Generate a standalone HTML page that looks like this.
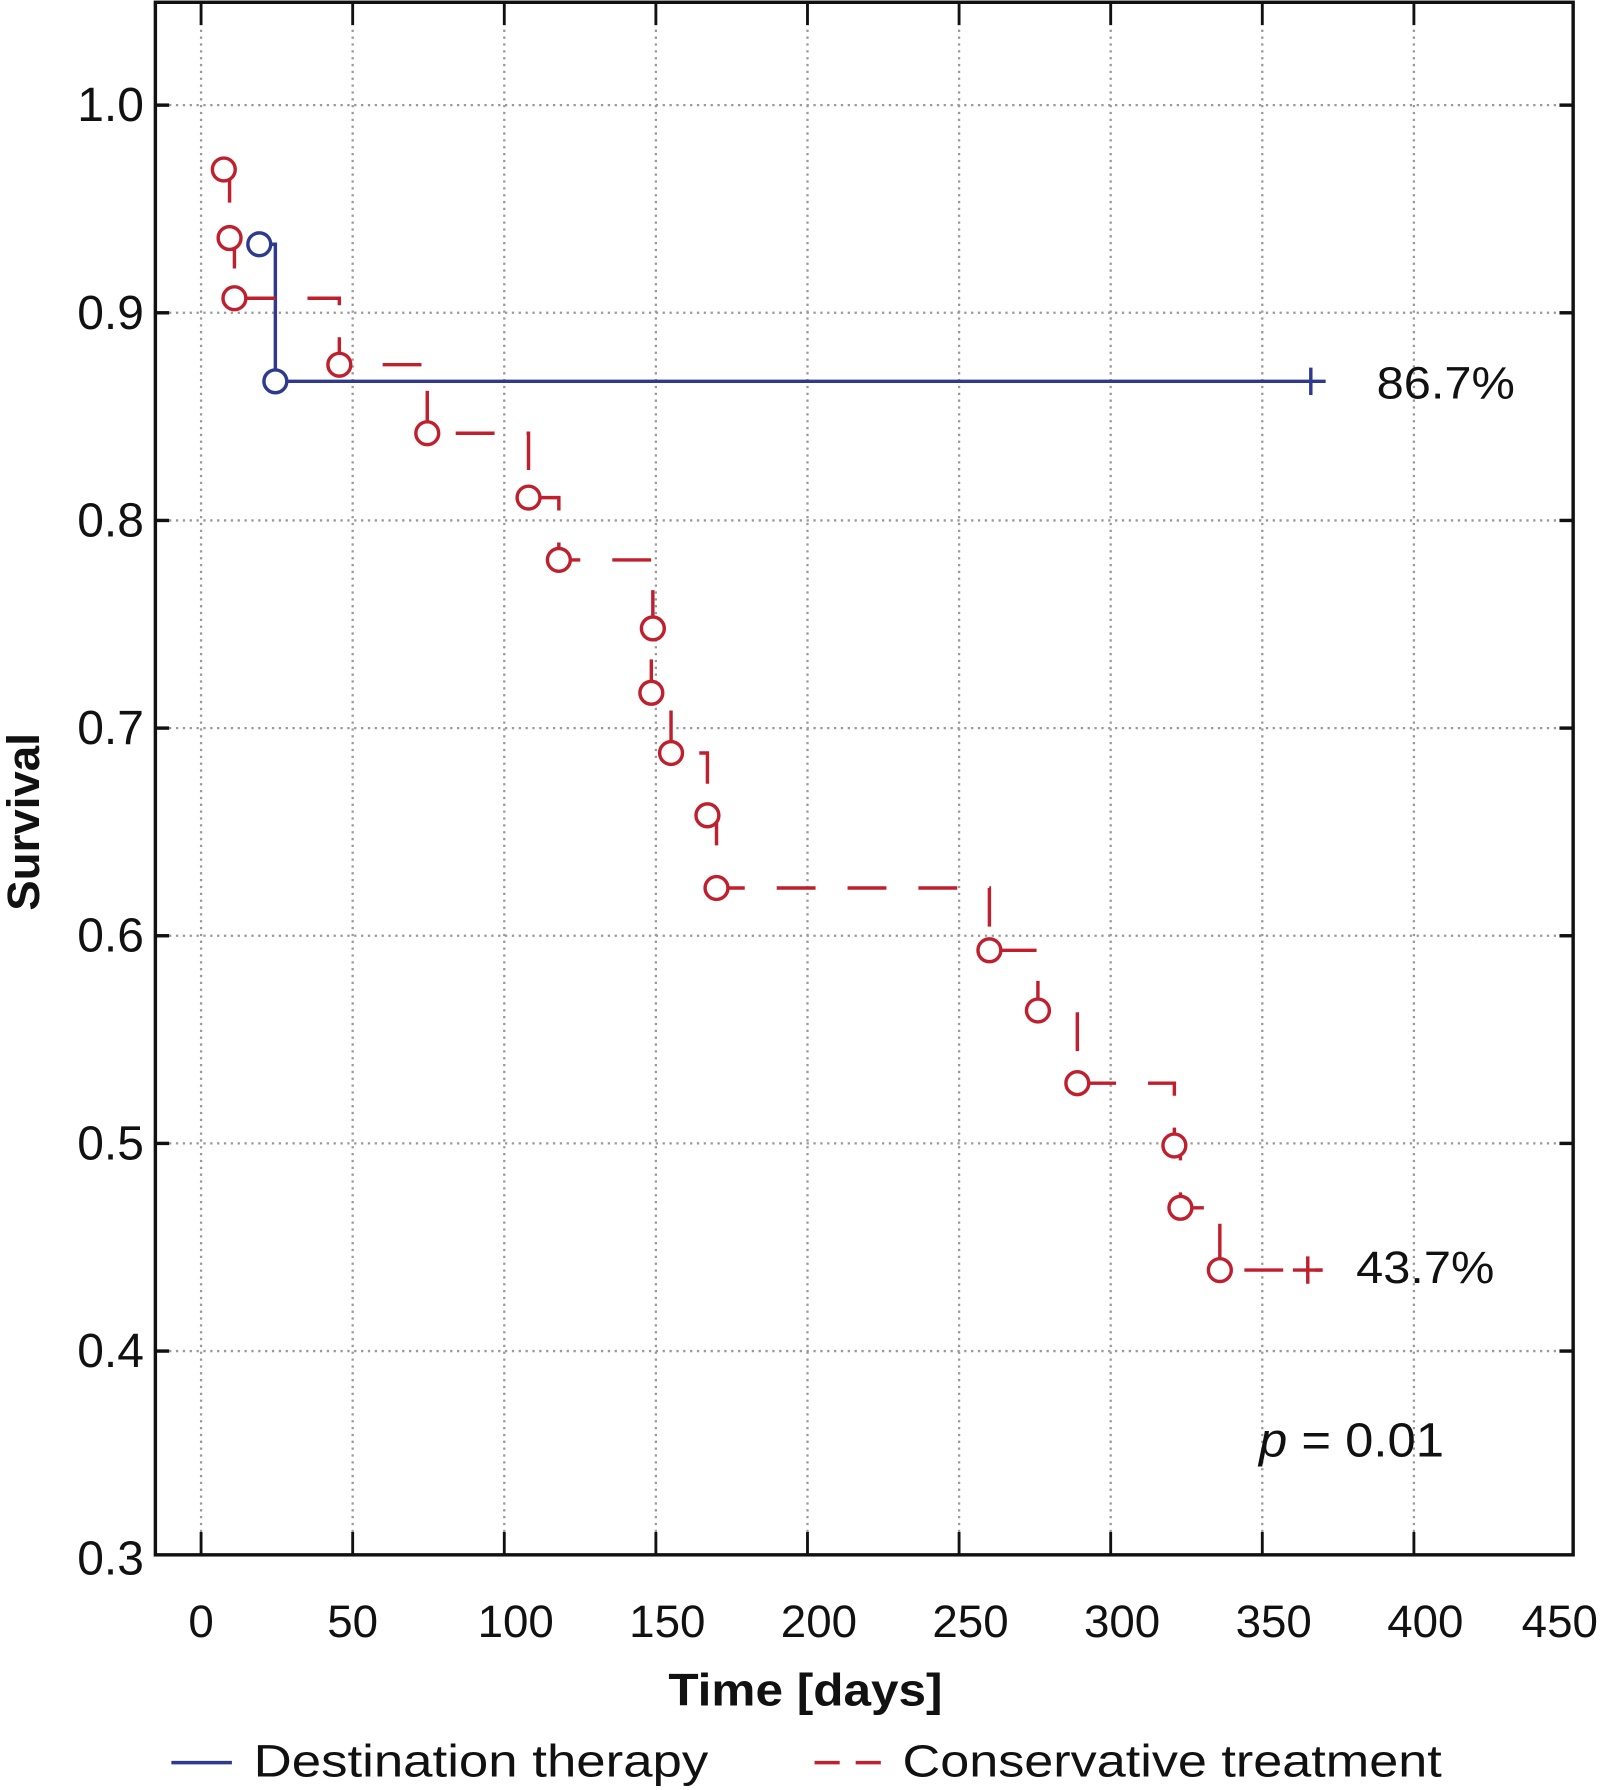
<!DOCTYPE html>
<html><head><meta charset="utf-8"><style>
html,body{margin:0;padding:0;background:#fff;}
svg{display:block;}
text{font-family:"Liberation Sans",sans-serif;fill:#111;}
</style></head><body>
<svg id="chart" width="1604" height="1790" viewBox="0 0 1404 1568" preserveAspectRatio="none" xmlns="http://www.w3.org/2000/svg">
<g id="grid"></g>
<g id="axes"></g>
<g id="marks"></g>
<text transform="translate(34,720) rotate(-90)" text-anchor="middle" font-size="40" font-weight="bold">Survival</text>
<text x="705" y="1494" text-anchor="middle" font-size="40" font-weight="bold" textLength="240" lengthAdjust="spacingAndGlyphs">Time [days]</text>
<text x="1205" y="349" font-size="40" textLength="121" lengthAdjust="spacingAndGlyphs">86.7%</text>
<text x="1187" y="1124" font-size="40" textLength="121" lengthAdjust="spacingAndGlyphs">43.7%</text>
<text x="1102" y="1276" font-size="42" textLength="162" lengthAdjust="spacingAndGlyphs"><tspan font-style="italic">p</tspan> = 0.01</text>
<g>
<line x1="150" y1="1544" x2="203" y2="1544" stroke="#2e3a8f" stroke-width="3"/>
<text x="222" y="1556" font-size="40" textLength="398" lengthAdjust="spacingAndGlyphs">Destination therapy</text>
<line x1="713" y1="1544" x2="775" y2="1544" stroke="#c0202e" stroke-width="3" stroke-dasharray="22 14"/>
<text x="790" y="1556" font-size="40" textLength="472" lengthAdjust="spacingAndGlyphs">Conservative treatment</text>
</g>
</svg>
<script>
const xTicks = [0,50,100,150,200,250,300,350,400,450];
const yTicks = [0.3,0.4,0.5,0.6,0.7,0.8,0.9,1.0];
const yTickLabels = ["0.3","0.4","0.5","0.6","0.7","0.8","0.9","1.0"];
const destDays = [19.2, 24.5];
const destSurv = [0.933, 0.867];
const destEnd = 366;
const consDays = [7.5,9.4,11,45.6,74.6,108,118,149,148.5,155,167,170,260,276,289,321,323,336];
const consSurv = [0.969,0.936,0.907,0.875,0.842,0.811,0.781,0.748,0.717,0.688,0.658,0.623,0.593,0.564,0.529,0.499,0.469,0.439];
const consEnd = 365;

const NS="http://www.w3.org/2000/svg";
const L=136,R=1377,T=2,B=1362;
const X=d=>176+d*2.654;
const Y=s=>274-(s-0.9)*1819;
function mk(tag,attrs,parent){const e=document.createElementNS(NS,tag);for(const k in attrs)e.setAttribute(k,attrs[k]);parent.appendChild(e);return e;}
const grid=document.getElementById('grid'),axes=document.getElementById('axes'),marks=document.getElementById('marks');

xTicks.forEach((t,i)=>{
  const x=X(t);
  if(t<450){
    const g=mk('line',{x1:x,y1:T,x2:x,y2:B,stroke:'#999','stroke-width':2,'stroke-dasharray':'2 4'},grid);
    
    
    const tb=mk('line',{x1:x,y1:B,x2:x,y2:B-20,stroke:'#111','stroke-width':2.5},axes);
    
    
    const tt=mk('line',{x1:x,y1:T,x2:x,y2:T+20,stroke:'#111','stroke-width':2.5},axes);
    
    
  }
  let off=t>=100?10:0;
  if(t>=450)off=-5;
  const lb=mk('text',{x:x+off,y:1434,'text-anchor':'middle','font-size':40},axes);
  lb.textContent=String(t);
  
  
});
yTicks.forEach((t,i)=>{
  const y=Y(t);
  if(t>0.3){
    const g=mk('line',{x1:L,y1:y,x2:R,y2:y,stroke:'#999','stroke-width':2,'stroke-dasharray':'2 4'},grid);
    
    
    const tl=mk('line',{x1:L,y1:y,x2:L+12,y2:y,stroke:'#111','stroke-width':3},axes);
    
    
    const tr=mk('line',{x1:R,y1:y,x2:R-12,y2:y,stroke:'#111','stroke-width':3},axes);
    
    
  }
  const lb=mk('text',{x:126,y:y+14,'text-anchor':'end','font-size':42},axes);
  lb.textContent=yTickLabels[i];
  
  
});
const frame=mk('rect',{x:L,y:T,width:R-L,height:B-T,fill:'none',stroke:'#111','stroke-width':3},axes);



const blue='#2e3a8f';
let dp='M'+X(destDays[0])+' '+Y(destSurv[0]);
for(let i=1;i<destDays.length;i++){dp+=' H'+X(destDays[i])+' V'+Y(destSurv[i]);}
dp+=' H'+(X(destEnd)+13);
const bl=mk('path',{d:dp,fill:'none',stroke:blue,'stroke-width':3},marks);


destDays.forEach((d,i)=>{
  const c=mk('circle',{cx:X(d),cy:Y(destSurv[i]),r:10,fill:'#fff',stroke:blue,'stroke-width':3},marks);
  
  
});
const bc=mk('path',{d:`M${X(destEnd)} ${Y(destSurv[destSurv.length-1])-12} v24`,stroke:blue,'stroke-width':3},marks);



const red='#c0202e';
let rp='M'+X(consDays[0])+' '+Y(consSurv[0]);
for(let i=1;i<consDays.length;i++){rp+=' H'+X(consDays[i])+' V'+Y(consSurv[i]);}
rp+=' H'+(X(consEnd)+13);
const rl=mk('path',{d:rp,fill:'none',stroke:red,'stroke-width':3,'stroke-dasharray':'34 28'},marks);


consDays.forEach((d,i)=>{
  const c=mk('circle',{cx:X(d),cy:Y(consSurv[i]),r:10,fill:'#fff',stroke:red,'stroke-width':3},marks);
  
  
});
const rc=mk('path',{d:`M${X(consEnd)} ${Y(consSurv[consSurv.length-1])-12} v24 M${X(consEnd)-13} ${Y(consSurv[consSurv.length-1])} h26`,stroke:red,'stroke-width':3},marks);


</script>
</body></html>
